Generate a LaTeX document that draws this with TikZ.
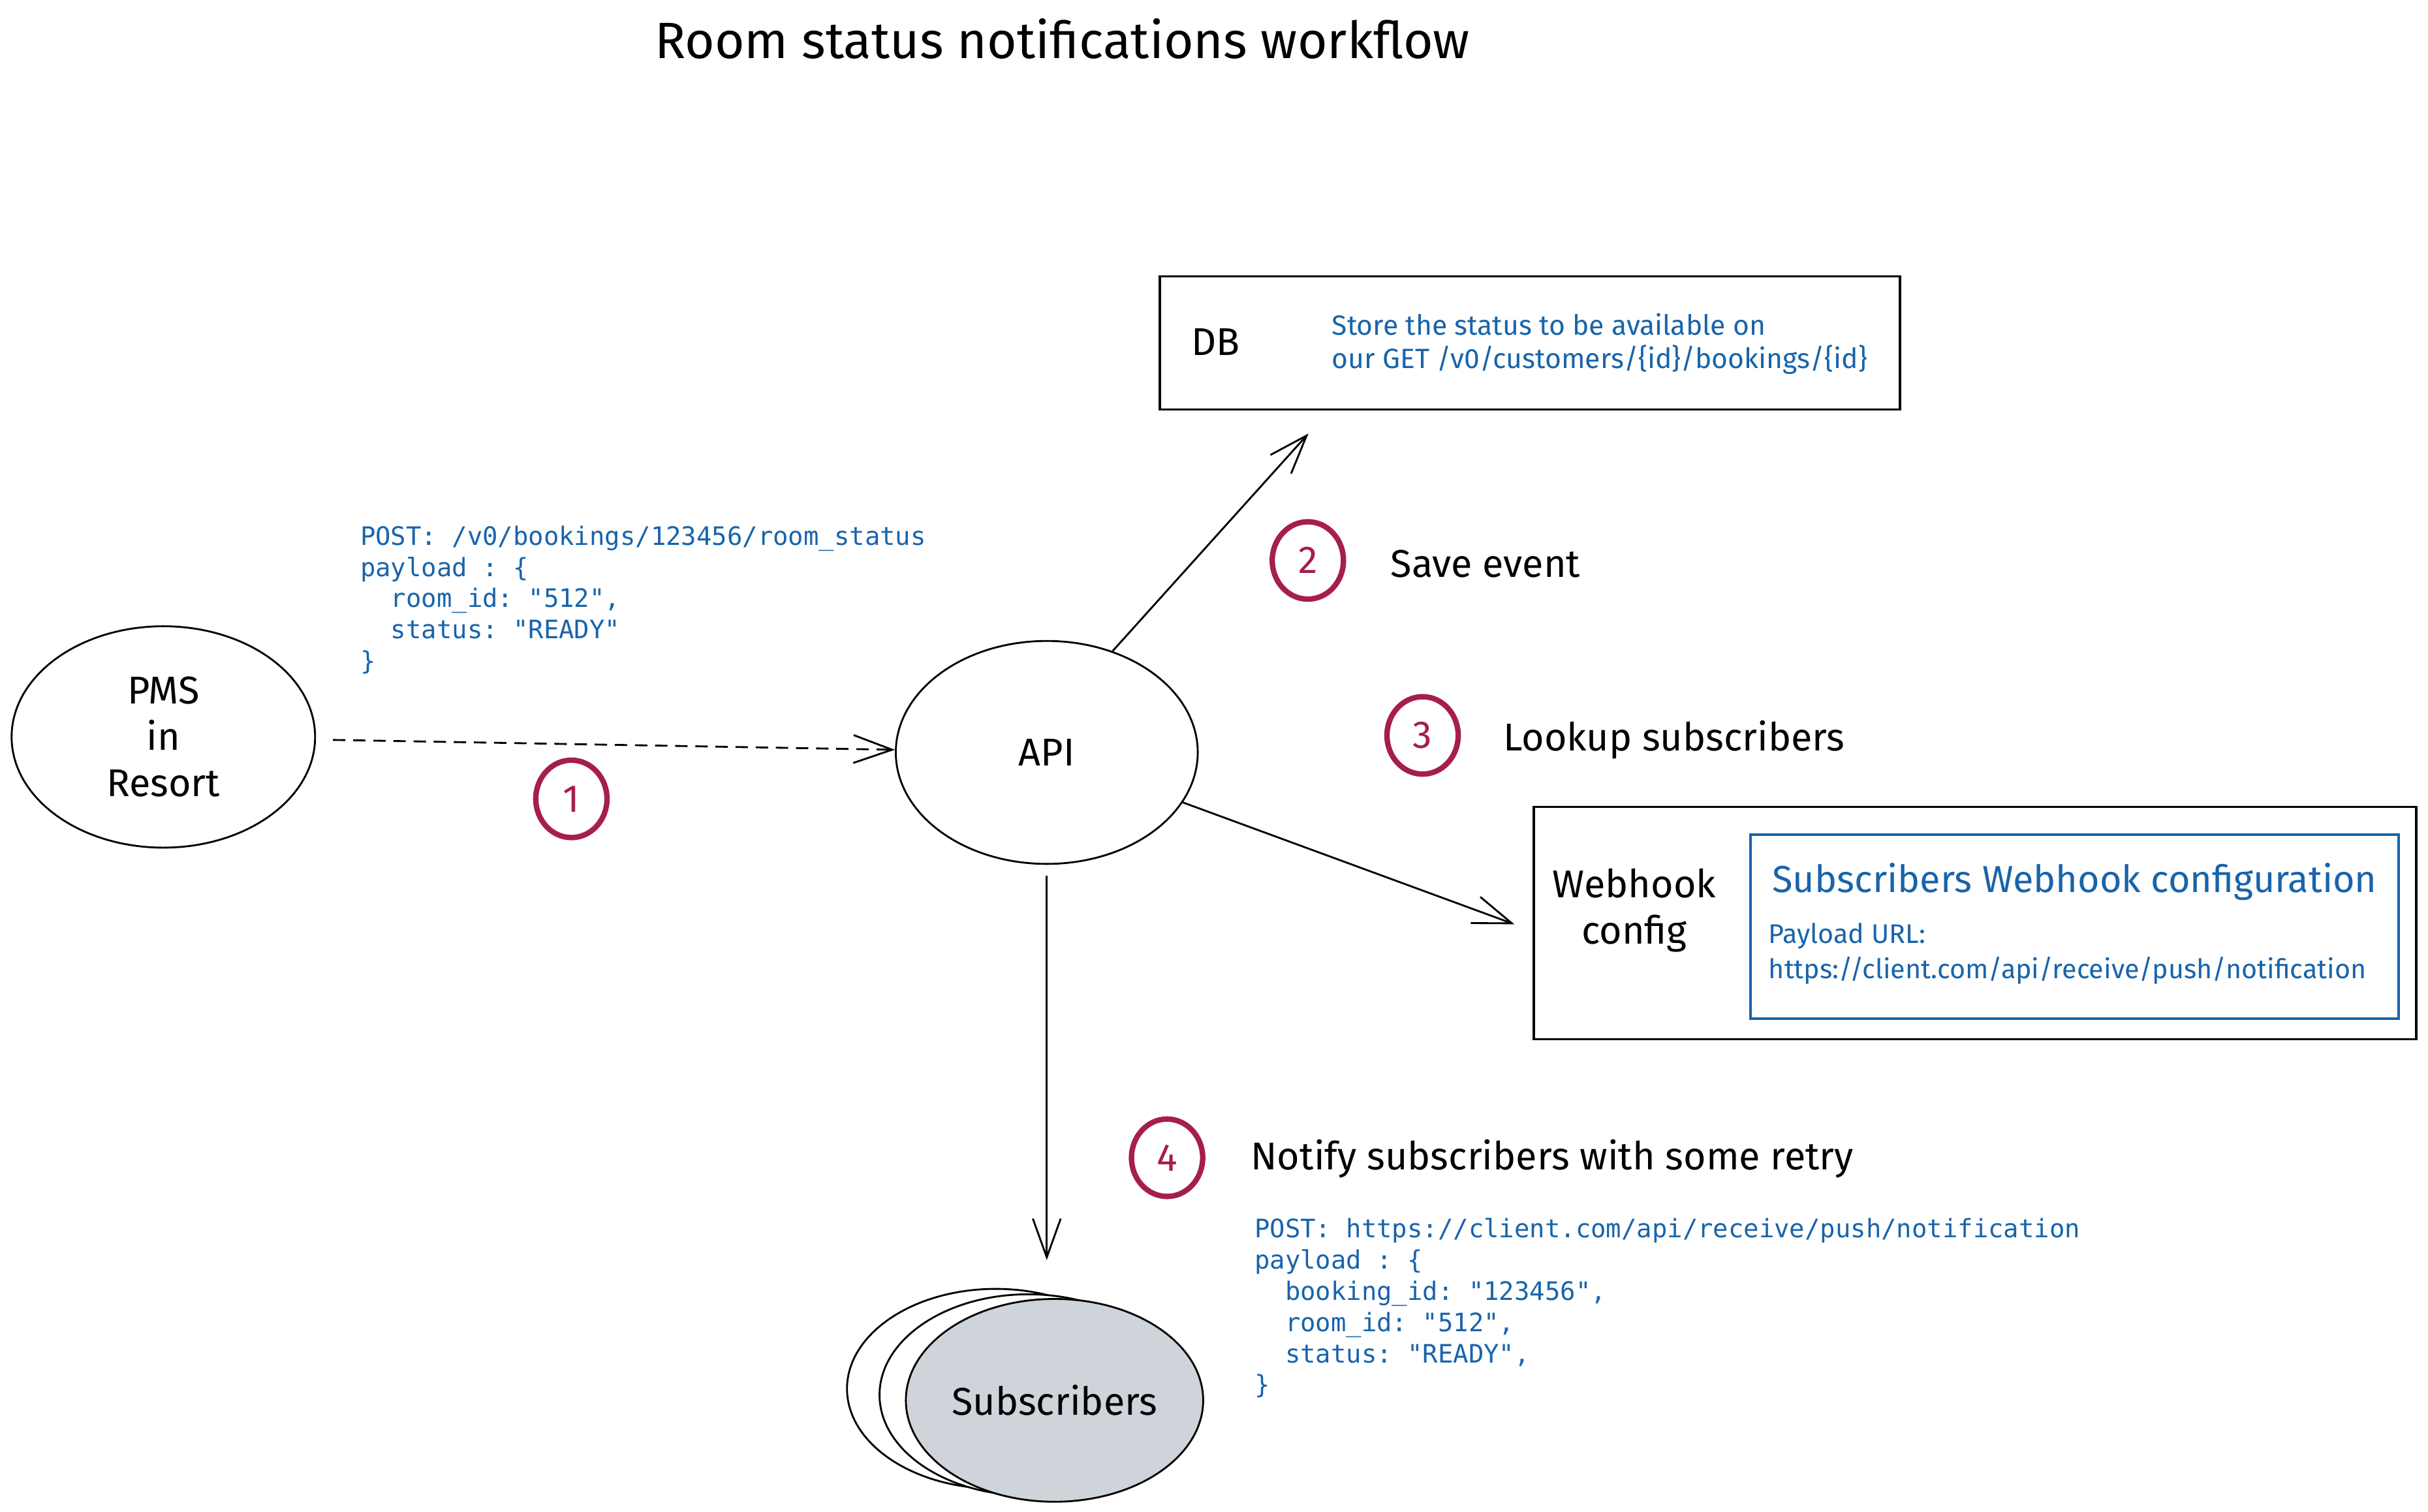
\documentclass[tikz,border=0pt]{standalone}
\usepackage{fontspec}
\setmainfont{Fira Sans}
\setmonofont{DejaVu Sans Mono}
\usetikzlibrary{shapes.geometric,arrows.meta}
\definecolor{crim}{HTML}{A61E4D}
\definecolor{xblue}{HTML}{1864AB}
\definecolor{xgray}{HTML}{CED4DA}
\tikzset{
  hand/.style={font=\fontsize{25}{30}\selectfont, inner sep=0pt, text=black},
  bluesmall/.style={font=\fontsize{18}{22}\selectfont, inner sep=0pt, text=xblue, align=left},
  bluebig/.style={font=\fontsize{24.3}{30}\selectfont, inner sep=0pt, text=xblue},
  mono/.style={font=\ttfamily\fontsize{16.4}{20.2}\selectfont, inner sep=0pt, text=xblue, align=left},
  ell/.style={ellipse, draw=black, line width=1.2pt, inner sep=0pt},
  boxx/.style={rectangle, draw=black, line width=1.6pt, inner sep=0pt},
  numc/.style={ellipse, draw=crim, line width=3.5pt, text=crim, inner sep=0pt,
    minimum width=46pt, minimum height=50pt, font=\fontsize{25}{30}\selectfont},
  arr/.style={-{Straight Barb[length=25pt,width=18pt]}, line width=1.2pt},
}
\begin{document}
\begin{tikzpicture}[x=1pt, y=-1pt]
\path[fill=white] (0,0) rectangle (1568,976.6);
\useasboundingbox (0,0) rectangle (1568,976.6);

% title
\node[font=\fontsize{33}{40}\selectfont, inner sep=0pt] (title) at (686,25) {Room status notifications workflow};

% PMS and API
\node[ell, minimum width=196pt, minimum height=143pt, align=center,
  font=\fontsize{25}{30}\selectfont] (pms) at (105.5,476) {PMS\\in\\Resort};
\node[ell, minimum width=195pt, minimum height=144pt,
  font=\fontsize{25}{30}\selectfont] (api) at (676,486) {API};

% request text (anchor = baseline of last line)
\node[mono, anchor=base west] (req) at (232.5,432.8) {POST: /v0/bookings/123456/room\_status\\payload : \{\\\phantom{xx}room\_id: "512",\\\phantom{xx}status: "READY"\\\}};

% step 1
\node[numc] (c1) at (369,516) {1};

% DB box
\node[boxx, minimum width=478pt, minimum height=86pt] (db) at (988,221.5) {};
\node[hand] (dblabel) at (785,221) {DB};
\node[bluesmall, anchor=west, font=\fontsize{18}{21.5}\selectfont] (dbtext) at (860,222) {Store the status to be available on\\our GET /v0/customers/\{id\}/bookings/\{id\}};

% step 2 and 3
\node[numc] (c2) at (844.6,362) {2};
\node[hand, anchor=west] (l2) at (898,364) {Save event};
\node[numc] (c3) at (918.7,475) {3};
\node[hand, anchor=west] (l3) at (970.7,478) {Lookup subscribers};

% webhook config
\node[boxx, minimum width=570pt, minimum height=150pt] (wh) at (1275.5,596.2) {};
\node[hand, align=center] (whlabel) at (1055.4,588) {Webhook\\config};
\node[rectangle, draw=xblue, line width=1.6pt, minimum width=418.5pt, minimum height=119pt] (whin) at (1339.75,598.5) {};
\node[bluebig, anchor=west] (whtitle) at (1144.4,569.5) {Subscribers Webhook configuration};
\node[bluesmall, anchor=west, font=\fontsize{17.4}{22.5}\selectfont] (whurl) at (1142,616) {Payload URL:\\https://client.com/api/receive/push/notification};

% step 4
\node[numc] (c4) at (753.7,747.8) {4};
\node[hand, anchor=west] (l4) at (807.6,748.4) {Notify subscribers with some retry};
\node[mono, anchor=base west] (notif) at (810,900.3) {POST: https://client.com/api/receive/push/notification\\payload : \{\\\phantom{xx}booking\_id: "123456",\\\phantom{xx}room\_id: "512",\\\phantom{xx}status: "READY",\\\}};

% subscribers stack
\node[ell, fill=white, minimum width=192pt, minimum height=129pt] (subsback) at (643,897) {};
\node[ell, fill=white, minimum width=192pt, minimum height=130pt] (subsmid) at (664,901) {};
\node[ell, fill=xgray, minimum width=192pt, minimum height=131pt,
  font=\fontsize{25}{30}\selectfont] (subs) at (681,904.5) {Subscribers};

% connectors
\coordinate (dbtip) at (845,280);
\coordinate (whtip) at (978,597);
\draw[arr, dash pattern=on 8pt off 5pt, shorten <=11pt] (pms) -- (api);
\draw[arr] (api.57) -- (dbtip);
\draw[arr] (api) -- (whtip);
\draw[arr, shorten <=7pt, shorten >=18pt] (api.south) -- (api.south |- subsback.north);
\end{tikzpicture}
\end{document}
